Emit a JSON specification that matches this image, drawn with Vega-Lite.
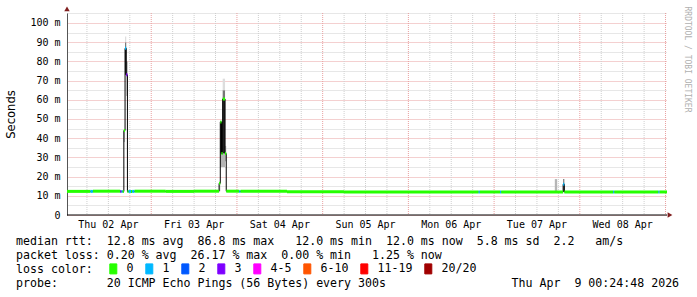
{
  "$schema": "https://vega.github.io/schema/vega-lite/v6.json",
  "width": 600,
  "height": 202,
  "autosize": {"type": "none"},
  "padding": {"left": 67, "top": 13, "right": 30, "bottom": 82},
  "background": "white",
  "config": {
    "view": {"stroke": null},
    "axis": {"labelFont": "DejaVu Sans Mono", "titleFont": "DejaVu Sans Mono", "labelColor": "#000", "titleColor": "#000", "titleFontWeight": "normal"}
  },
  "datasets": {
    "med": [
      {"t":"2026-04-02T00:00:00Z","t2":"2026-04-02T07:00:00Z","med":12.3,"loss":"0"},
      {"t":"2026-04-02T07:00:00Z","t2":"2026-04-02T07:40:00Z","med":12.3,"loss":"1"},
      {"t":"2026-04-02T07:40:00Z","t2":"2026-04-02T15:20:00Z","med":12.4,"loss":"0"},
      {"t":"2026-04-02T15:20:00Z","t2":"2026-04-02T15:40:00Z","med":12.3,"loss":"3"},
      {"t":"2026-04-02T15:40:00Z","t2":"2026-04-02T16:00:00Z","med":12.3,"loss":"1"},
      {"t":"2026-04-02T16:00:00Z","t2":"2026-04-02T16:20:00Z","med":12.3,"loss":"0"},
      {"t":"2026-04-02T16:20:00Z","t2":"2026-04-02T16:40:00Z","med":44,"loss":"0"},
      {"t":"2026-04-02T16:40:00Z","t2":"2026-04-02T17:00:00Z","med":86.8,"loss":"1"},
      {"t":"2026-04-02T17:00:00Z","t2":"2026-04-02T17:20:00Z","med":73,"loss":"3"},
      {"t":"2026-04-02T17:20:00Z","t2":"2026-04-02T17:40:00Z","med":12.3,"loss":"0"},
      {"t":"2026-04-02T17:40:00Z","t2":"2026-04-02T18:20:00Z","med":12.3,"loss":"1"},
      {"t":"2026-04-02T18:20:00Z","t2":"2026-04-02T18:40:00Z","med":12.3,"loss":"0"},
      {"t":"2026-04-02T18:40:00Z","t2":"2026-04-02T19:20:00Z","med":12.3,"loss":"1"},
      {"t":"2026-04-02T19:20:00Z","t2":"2026-04-03T04:00:00Z","med":12.4,"loss":"0"},
      {"t":"2026-04-03T04:00:00Z","t2":"2026-04-03T12:00:00Z","med":12.3,"loss":"0"},
      {"t":"2026-04-03T12:00:00Z","t2":"2026-04-03T19:00:00Z","med":12.4,"loss":"0"},
      {"t":"2026-04-03T19:00:00Z","t2":"2026-04-03T19:20:00Z","med":16.5,"loss":"0"},
      {"t":"2026-04-03T19:20:00Z","t2":"2026-04-03T19:40:00Z","med":48.5,"loss":"0"},
      {"t":"2026-04-03T19:40:00Z","t2":"2026-04-03T20:00:00Z","med":32,"loss":"0"},
      {"t":"2026-04-03T20:00:00Z","t2":"2026-04-03T20:40:00Z","med":60.4,"loss":"0"},
      {"t":"2026-04-03T20:40:00Z","t2":"2026-04-03T21:00:00Z","med":32,"loss":"0"},
      {"t":"2026-04-03T21:00:00Z","t2":"2026-04-04T00:40:00Z","med":12.4,"loss":"0"},
      {"t":"2026-04-04T00:40:00Z","t2":"2026-04-04T01:00:00Z","med":12.3,"loss":"1"},
      {"t":"2026-04-04T01:00:00Z","t2":"2026-04-04T14:00:00Z","med":12.4,"loss":"0"},
      {"t":"2026-04-04T14:00:00Z","t2":"2026-04-05T06:00:00Z","med":12.1,"loss":"0"},
      {"t":"2026-04-05T06:00:00Z","t2":"2026-04-06T19:40:00Z","med":12.0,"loss":"0"},
      {"t":"2026-04-06T19:40:00Z","t2":"2026-04-06T20:00:00Z","med":12.0,"loss":"1"},
      {"t":"2026-04-06T20:00:00Z","t2":"2026-04-07T01:40:00Z","med":12.0,"loss":"0"},
      {"t":"2026-04-07T01:40:00Z","t2":"2026-04-07T02:00:00Z","med":12.0,"loss":"1"},
      {"t":"2026-04-07T02:00:00Z","t2":"2026-04-07T19:20:00Z","med":12.0,"loss":"0"},
      {"t":"2026-04-07T19:20:00Z","t2":"2026-04-07T19:40:00Z","med":16.0,"loss":"1"},
      {"t":"2026-04-07T19:40:00Z","t2":"2026-04-08T09:20:00Z","med":12.0,"loss":"0"},
      {"t":"2026-04-08T09:20:00Z","t2":"2026-04-08T09:40:00Z","med":12.0,"loss":"1"},
      {"t":"2026-04-08T09:40:00Z","t2":"2026-04-08T22:00:00Z","med":12.0,"loss":"0"},
      {"t":"2026-04-08T22:00:00Z","t2":"2026-04-08T22:20:00Z","med":12.0,"loss":"1"},
      {"t":"2026-04-08T22:20:00Z","t2":"2026-04-09T01:00:00Z","med":12.0,"loss":"0"}
    ],
    "smoke": [
      {"t":"2026-04-02T16:20:00Z","t2":"2026-04-02T16:40:00Z","lo":38,"hi":44,"s":"l"},
      {"t":"2026-04-02T16:40:00Z","t2":"2026-04-02T17:00:00Z","lo":73,"hi":86.8,"s":"d"},
      {"t":"2026-04-02T16:40:00Z","t2":"2026-04-02T17:00:00Z","lo":86.8,"hi":90,"s":"m"},
      {"t":"2026-04-02T16:40:00Z","t2":"2026-04-02T17:00:00Z","lo":90,"hi":93,"s":"f"},
      {"t":"2026-04-02T17:00:00Z","t2":"2026-04-02T17:20:00Z","lo":73,"hi":80,"s":"m"},
      {"t":"2026-04-02T17:00:00Z","t2":"2026-04-02T17:20:00Z","lo":62,"hi":73,"s":"l"},
      {"t":"2026-04-03T19:00:00Z","t2":"2026-04-03T19:20:00Z","lo":12.4,"hi":16.5,"s":"l"},
      {"t":"2026-04-03T19:20:00Z","t2":"2026-04-03T20:00:00Z","lo":32,"hi":48.5,"s":"d"},
      {"t":"2026-04-03T20:00:00Z","t2":"2026-04-03T20:40:00Z","lo":32,"hi":60.4,"s":"d"},
      {"t":"2026-04-03T19:20:00Z","t2":"2026-04-03T20:40:00Z","lo":25,"hi":32,"s":"l"},
      {"t":"2026-04-03T20:00:00Z","t2":"2026-04-03T20:40:00Z","lo":60.4,"hi":65,"s":"m"},
      {"t":"2026-04-03T20:00:00Z","t2":"2026-04-03T20:40:00Z","lo":65,"hi":71,"s":"f"},
      {"t":"2026-04-03T20:40:00Z","t2":"2026-04-03T21:00:00Z","lo":28,"hi":36,"s":"l"},
      {"t":"2026-04-07T17:00:00Z","t2":"2026-04-07T17:40:00Z","lo":12,"hi":18.7,"s":"l"},
      {"t":"2026-04-07T19:20:00Z","t2":"2026-04-07T19:40:00Z","lo":12,"hi":18.7,"s":"m"}
    ],
    "grid": [
      {"t":"2026-04-02T06:00:00Z","major":0},{"t":"2026-04-02T12:00:00Z","major":0},{"t":"2026-04-02T18:00:00Z","major":0},
      {"t":"2026-04-03T00:00:00Z","major":1},{"t":"2026-04-03T06:00:00Z","major":0},{"t":"2026-04-03T12:00:00Z","major":0},{"t":"2026-04-03T18:00:00Z","major":0},
      {"t":"2026-04-04T00:00:00Z","major":1},{"t":"2026-04-04T06:00:00Z","major":0},{"t":"2026-04-04T12:00:00Z","major":0},{"t":"2026-04-04T18:00:00Z","major":0},
      {"t":"2026-04-05T00:00:00Z","major":1},{"t":"2026-04-05T06:00:00Z","major":0},{"t":"2026-04-05T12:00:00Z","major":0},{"t":"2026-04-05T18:00:00Z","major":0},
      {"t":"2026-04-06T00:00:00Z","major":1},{"t":"2026-04-06T06:00:00Z","major":0},{"t":"2026-04-06T12:00:00Z","major":0},{"t":"2026-04-06T18:00:00Z","major":0},
      {"t":"2026-04-07T00:00:00Z","major":1},{"t":"2026-04-07T06:00:00Z","major":0},{"t":"2026-04-07T12:00:00Z","major":0},{"t":"2026-04-07T18:00:00Z","major":0},
      {"t":"2026-04-08T00:00:00Z","major":1},{"t":"2026-04-08T06:00:00Z","major":0},{"t":"2026-04-08T12:00:00Z","major":0},{"t":"2026-04-08T18:00:00Z","major":0},
      {"t":"2026-04-09T00:00:00Z","major":1}
    ],
    "days": [
      {"t":"2026-04-02T12:00:00Z","lbl":"Thu 02 Apr"},
      {"t":"2026-04-03T12:00:00Z","lbl":"Fri 03 Apr"},
      {"t":"2026-04-04T12:00:00Z","lbl":"Sat 04 Apr"},
      {"t":"2026-04-05T12:00:00Z","lbl":"Sun 05 Apr"},
      {"t":"2026-04-06T12:00:00Z","lbl":"Mon 06 Apr"},
      {"t":"2026-04-07T12:00:00Z","lbl":"Tue 07 Apr"},
      {"t":"2026-04-08T12:00:00Z","lbl":"Wed 08 Apr"}
    ],
    "notes": [
      {"txt":"median rtt:\u00a0\u00a012.8 ms avg\u00a0\u00a086.8 ms max\u00a0\u00a0\u00a012.0 ms min\u00a0\u00a012.0 ms now\u00a0\u00a05.8 ms sd\u00a0\u00a02.2\u00a0\u00a0\u00a0am/s\npacket loss: 0.20 % avg\u00a0\u00a026.17 % max\u00a0\u00a00.00 % min\u00a0\u00a0\u00a01.25 % now\nloss color:\nprobe:\u00a0\u00a0\u00a0\u00a0\u00a0\u00a0\u00a020 ICMP Echo Pings (56 Bytes) every 300s\u00a0\u00a0\u00a0\u00a0\u00a0\u00a0\u00a0\u00a0\u00a0\u00a0\u00a0\u00a0\u00a0\u00a0\u00a0\u00a0\u00a0\u00a0Thu Apr\u00a0\u00a09 00:24:48 2026"}
    ]
  },
  "resolve": {"axis": {"y": "independent"}},
  "layer": [
    {
      "data": {"name": "smoke"},
      "mark": {"type": "rect", "clip": true},
      "encoding": {
        "x": {"field": "t", "type": "temporal", "scale": {"type": "utc", "domain": [1775089488000, 1775694288000]}, "axis": null},
        "x2": {"field": "t2"},
        "y": {
          "field": "lo", "type": "quantitative",
          "scale": {"domain": [0, 105.2083], "nice": false, "zero": false},
          "axis": {
            "values": [0,5,10,15,20,25,30,35,40,45,50,55,60,65,70,75,80,85,90,95,100,105],
            "labelExpr": "datum.value % 10 === 0 ? (datum.value === 0 ? '0' : datum.value + ' m') : ''",
            "ticks": false,
            "labelPadding": 7,
            "labelFontSize": 10,
            "labelOverlap": false,
            "labelFlush": false,
            "domainColor": "#555",
            "gridColor": {"condition": {"test": "datum.value % 10 === 0", "value": "#e9a0a0"}, "value": "#cfcfcf"},
            "gridDash": [1, 1],
            "gridOpacity": 1,
            "title": "Seconds",
            "titleFont": "DejaVu Sans",
            "titleFontSize": 11.6,
            "titleAngle": -90,
            "titleX": -56,
            "titleY": 101,
            "titleAlign": "center",
            "titleBaseline": "middle"
          }
        },
        "y2": {"field": "hi"},
        "fill": {"field": "s", "type": "nominal", "scale": {"domain": ["d","m","l","f"], "range": ["#262626","#777777","#b5b5b5","#dddddd"]}, "legend": null}
      }
    },
    {
      "data": {"name": "grid"},
      "mark": {"type": "rule", "strokeDash": [1, 1], "strokeWidth": 1, "clip": true},
      "encoding": {
        "x": {"field": "t", "type": "temporal", "axis": null},
        "stroke": {"condition": {"test": "datum.major === 1", "value": "#e9a0a0"}, "value": "#cfcfcf"}
      }
    },
    {
      "data": {"name": "med"},
      "mark": {"type": "line", "interpolate": "step-after", "color": "#000", "strokeWidth": 1, "clip": true},
      "encoding": {
        "x": {"field": "t", "type": "temporal", "axis": null},
        "y": {"field": "med", "type": "quantitative", "axis": null}
      }
    },
    {
      "data": {"name": "med"},
      "mark": {"type": "rule", "strokeWidth": 3, "clip": true},
      "encoding": {
        "x": {"field": "t", "type": "temporal", "axis": null},
        "x2": {"field": "t2"},
        "y": {"field": "med", "type": "quantitative", "axis": null},
        "color": {
          "field": "loss", "type": "nominal",
          "scale": {"domain": ["0","1","2","3","4-5","6-10","11-19","20/20"], "range": ["#26ff00","#00b8ff","#0059ff","#7e00ff","#ff00ff","#ff5500","#ff0000","#a00000"]},
          "legend": {
            "orient": "none", "legendX": 40.5, "legendY": 250, "direction": "horizontal",
            "title": null, "padding": 0,
            "symbolType": "M-0.7,-1H0.7V1H-0.7Z", "symbolSize": 100, "symbolStrokeWidth": 1, "symbolStrokeColor": "#000",
            "labelFont": "DejaVu Sans Mono", "labelFontSize": 11.6, "labelColor": "#000",
            "labelOffset": 7.5, "columnPadding": 9,
            "encode": {"symbols": {"update": {"fill": {"scale": "color", "field": "value"}, "stroke": {"value": "#000"}, "strokeWidth": {"value": 1}, "opacity": {"value": 1}}}}
          }
        }
      }
    },
    {
      "data": {"values": [{}]},
      "mark": {"type": "rule", "color": "#000", "strokeWidth": 1},
      "encoding": {
        "y": {"datum": 0, "type": "quantitative", "axis": null}
      }
    },
    {
      "data": {"name": "days"},
      "mark": {"type": "text", "font": "DejaVu Sans Mono", "fontSize": 10, "color": "#000", "align": "center", "baseline": "top", "dy": 5, "clip": false},
      "encoding": {
        "x": {"field": "t", "type": "temporal", "axis": null},
        "y": {"datum": 0, "type": "quantitative", "axis": null},
        "text": {"field": "lbl"}
      }
    },
    {
      "data": {"name": "notes"},
      "mark": {"type": "text", "font": "DejaVu Sans Mono", "fontSize": 11.6, "lineHeight": 14, "lineBreak": "\n", "color": "#000", "align": "left", "baseline": "top", "dx": -51, "dy": 21, "clip": false},
      "encoding": {
        "x": {"datum": 1775089488000, "type": "temporal", "axis": null},
        "y": {"datum": 0, "type": "quantitative", "axis": null},
        "text": {"field": "txt"}
      }
    },
    {
      "data": {"values": [{}]},
      "mark": {"type": "point", "shape": "triangle-up", "filled": true, "size": 30, "color": "#801f1f", "opacity": 1, "clip": false},
      "encoding": {
        "x": {"datum": 1775089488000, "type": "temporal", "axis": null},
        "y": {
          "datum": 107.3, "type": "quantitative",
          "axis": {"orient": "right", "labels": false, "ticks": false, "domain": false, "grid": false,
            "title": "RRDTOOL / TOBI OETIKER", "titleFont": "DejaVu Sans Mono", "titleFontSize": 8, "titleColor": "#b0b0b0",
            "titleAngle": 90, "titleX": 19, "titleY": 46, "titleAlign": "center", "titleBaseline": "middle"}
        }
      }
    },
    {
      "data": {"values": [{}]},
      "mark": {"type": "point", "shape": "triangle-right", "filled": true, "size": 30, "color": "#801f1f", "opacity": 1, "clip": false},
      "encoding": {
        "x": {"datum": 1775697300000, "type": "temporal", "axis": null},
        "y": {"datum": 0, "type": "quantitative", "axis": null}
      }
    }
  ]
}
